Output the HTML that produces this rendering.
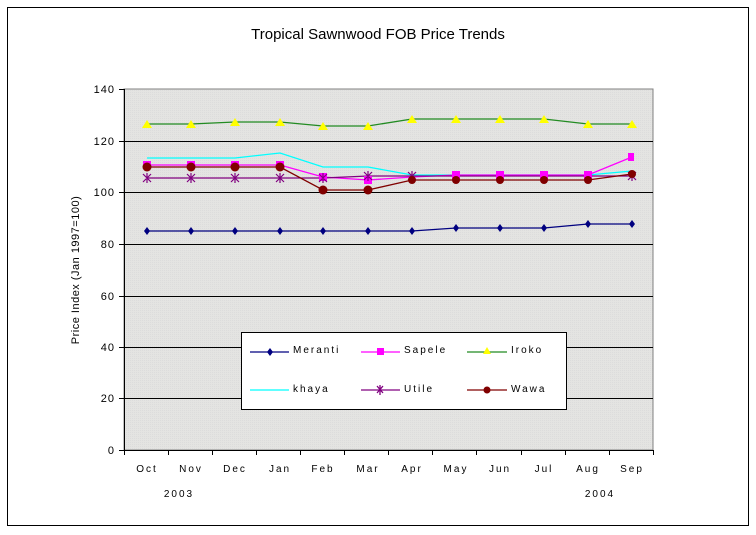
<!DOCTYPE html>
<html><head><style>body{margin:0;background:#fff}svg{display:block;font-family:"Liberation Sans",sans-serif}</style></head><body>
<svg width="756" height="535" viewBox="0 0 756 535">
<defs><pattern id="p" width="2" height="2" patternUnits="userSpaceOnUse"><rect width="2" height="2" fill="#e4e4e2"/><rect width="1" height="1" fill="#dcdcdc"/></pattern></defs>
<rect x="7.5" y="7.5" width="741" height="518" fill="#fff" stroke="#000"/>
<text x="378" y="39" font-size="15" text-anchor="middle">Tropical Sawnwood FOB Price Trends</text>
<rect x="124" y="89" width="529" height="361" fill="url(#p)" stroke="#808080"/>
<g stroke="#000" stroke-width="1">
<line x1="124" y1="141.5" x2="653" y2="141.5"/><line x1="124" y1="192.5" x2="653" y2="192.5"/><line x1="124" y1="244.5" x2="653" y2="244.5"/><line x1="124" y1="296.5" x2="653" y2="296.5"/><line x1="124" y1="347.5" x2="653" y2="347.5"/><line x1="124" y1="398.5" x2="653" y2="398.5"/>
<line x1="124.5" y1="89" x2="124.5" y2="455"/><line x1="119" y1="450.5" x2="653" y2="450.5"/>
<line x1="119" y1="89.5" x2="124" y2="89.5"/><line x1="119" y1="141.5" x2="124" y2="141.5"/><line x1="119" y1="192.5" x2="124" y2="192.5"/><line x1="119" y1="244.5" x2="124" y2="244.5"/><line x1="119" y1="296.5" x2="124" y2="296.5"/><line x1="119" y1="347.5" x2="124" y2="347.5"/><line x1="119" y1="398.5" x2="124" y2="398.5"/>
<path d="M168.5 450v5M212.5 450v5M256.5 450v5M300.5 450v5M344.5 450v5M388.5 450v5M432.5 450v5M476.5 450v5M521.5 450v5M565.5 450v5M609.5 450v5M653.5 450v5"/>
</g>
<g font-size="11" text-anchor="end" letter-spacing="1">
<text x="115" y="93">140</text><text x="115" y="145">120</text><text x="115" y="196">100</text><text x="115" y="248">80</text><text x="115" y="300">60</text><text x="115" y="351">40</text><text x="115" y="402">20</text><text x="115" y="454">0</text>
</g>
<text transform="translate(79,270) rotate(-90)" font-size="11" text-anchor="middle" letter-spacing="0.5">Price Index (Jan 1997=100)</text>
<g font-size="10" text-anchor="middle" letter-spacing="2">
<text x="147" y="472">Oct</text><text x="191" y="472">Nov</text><text x="235" y="472">Dec</text><text x="280" y="472">Jan</text><text x="323" y="472">Feb</text><text x="368" y="472">Mar</text><text x="412" y="472">Apr</text><text x="456" y="472">May</text><text x="500" y="472">Jun</text><text x="544" y="472">Jul</text><text x="588" y="472">Aug</text><text x="632" y="472">Sep</text>
<text x="179" y="497">2003</text><text x="600" y="497">2004</text>
</g>
<g fill="none" stroke-width="1.3">
<polyline stroke="#228b22" points="147,124 191,124 235,122 280,122 323,126 368,126 412,119 456,119 500,119 544,119 588,124 632,124"/>
<polyline stroke="#00ffff" points="147,158 191,158 235,158 280,153 323,167 368,167 412,175 456,175 500,175 544,175 588,175 632,171"/>
<polyline stroke="#ff00ff" points="147,165 191,165 235,165 280,165 323,177 368,180 412,177 456,175 500,175 544,175 588,175 632,157"/>
<polyline stroke="#800080" points="147,178 191,178 235,178 280,178 323,178 368,176 412,176 456,176 500,176 544,176 588,176 632,176"/>
<polyline stroke="#800000" points="147,167 191,167 235,167 280,167 323,190 368,190 412,180 456,180 500,180 544,180 588,180 632,174"/>
<polyline stroke="#000080" points="147,231 191,231 235,231 280,231 323,231 368,231 412,231 456,228 500,228 544,228 588,224 632,224"/>
</g>
<g fill="#ffff00">
<path d="M147,120l5,8h-10zM191,120l5,8h-10zM235,118l5,8h-10zM280,118l5,8h-10zM323,122l5,8h-10zM368,122l5,8h-10zM412,115l5,8h-10zM456,115l5,8h-10zM500,115l5,8h-10zM544,115l5,8h-10zM588,120l5,8h-10zM632,120l5,8h-10z"/>
</g>
<g fill="#ff00ff">
<rect x="143" y="161" width="8" height="8"/><rect x="187" y="161" width="8" height="8"/><rect x="231" y="161" width="8" height="8"/><rect x="276" y="161" width="8" height="8"/><rect x="319" y="173" width="8" height="8"/><rect x="364" y="176" width="8" height="8"/><rect x="452" y="171" width="8" height="8"/><rect x="496" y="171" width="8" height="8"/><rect x="540" y="171" width="8" height="8"/><rect x="584" y="171" width="8" height="8"/><rect x="628" y="153" width="6" height="8"/>
</g>
<g stroke="#800080" stroke-width="1.2">
<path d="M143,174l8,8M151,174l-8,8M147,173v10M191,173v10M187,174l8,8M195,174l-8,8M235,173v10M231,174l8,8M239,174l-8,8M280,173v10M276,174l8,8M284,174l-8,8M323,173v10M319,174l8,8M327,174l-8,8M368,171v10M364,172l8,8M372,172l-8,8M412,171v10M408,172l8,8M416,172l-8,8M632,171v10M628,172l8,8M636,172l-8,8"/>
</g>
<g fill="#800000">
<circle cx="147" cy="167" r="4.5"/><circle cx="191" cy="167" r="4.5"/><circle cx="235" cy="167" r="4.5"/><circle cx="280" cy="167" r="4.5"/><circle cx="323" cy="190" r="4.5"/><circle cx="368" cy="190" r="4.5"/><circle cx="412" cy="180" r="4"/><circle cx="456" cy="180" r="4"/><circle cx="500" cy="180" r="4"/><circle cx="544" cy="180" r="4"/><circle cx="588" cy="180" r="4"/><circle cx="632" cy="174" r="4"/>
</g>
<g fill="#000080">
<path d="M147,227l3,4l-3,4l-3,-4zM191,227l3,4l-3,4l-3,-4zM235,227l3,4l-3,4l-3,-4zM280,227l3,4l-3,4l-3,-4zM323,227l3,4l-3,4l-3,-4zM368,227l3,4l-3,4l-3,-4zM412,227l3,4l-3,4l-3,-4zM456,224l3,4l-3,4l-3,-4zM500,224l3,4l-3,4l-3,-4zM544,224l3,4l-3,4l-3,-4zM588,220l3,4l-3,4l-3,-4zM632,220l3,4l-3,4l-3,-4z"/>
</g>
<rect x="241.5" y="332.5" width="325" height="77" fill="#fff" stroke="#000"/>
<g stroke-width="1.3">
<line x1="250" y1="352" x2="289" y2="352" stroke="#000080"/><path d="M270,348l3,4l-3,4l-3,-4z" fill="#000080"/>
<line x1="361" y1="352" x2="400" y2="352" stroke="#ff00ff"/><rect x="377" y="348" width="7" height="7" fill="#ff00ff"/>
<line x1="467" y1="352" x2="507" y2="352" stroke="#228b22"/><path d="M487,347l4,7h-8z" fill="#ffff00"/>
<line x1="250" y1="390" x2="289" y2="390" stroke="#00ffff"/>
<line x1="361" y1="390" x2="400" y2="390" stroke="#800080"/><path d="M380,385v10M377,386l6,7M383,386l-6,7" stroke="#800080"/>
<line x1="467" y1="390" x2="507" y2="390" stroke="#800000"/><circle cx="487" cy="390" r="3.5" fill="#800000"/>
</g>
<g font-size="10" letter-spacing="2">
<text x="293" y="353">Meranti</text><text x="404" y="353">Sapele</text><text x="511" y="353">Iroko</text>
<text x="293" y="392">khaya</text><text x="404" y="392">Utile</text><text x="511" y="392">Wawa</text>
</g>
</svg>
</body></html>
